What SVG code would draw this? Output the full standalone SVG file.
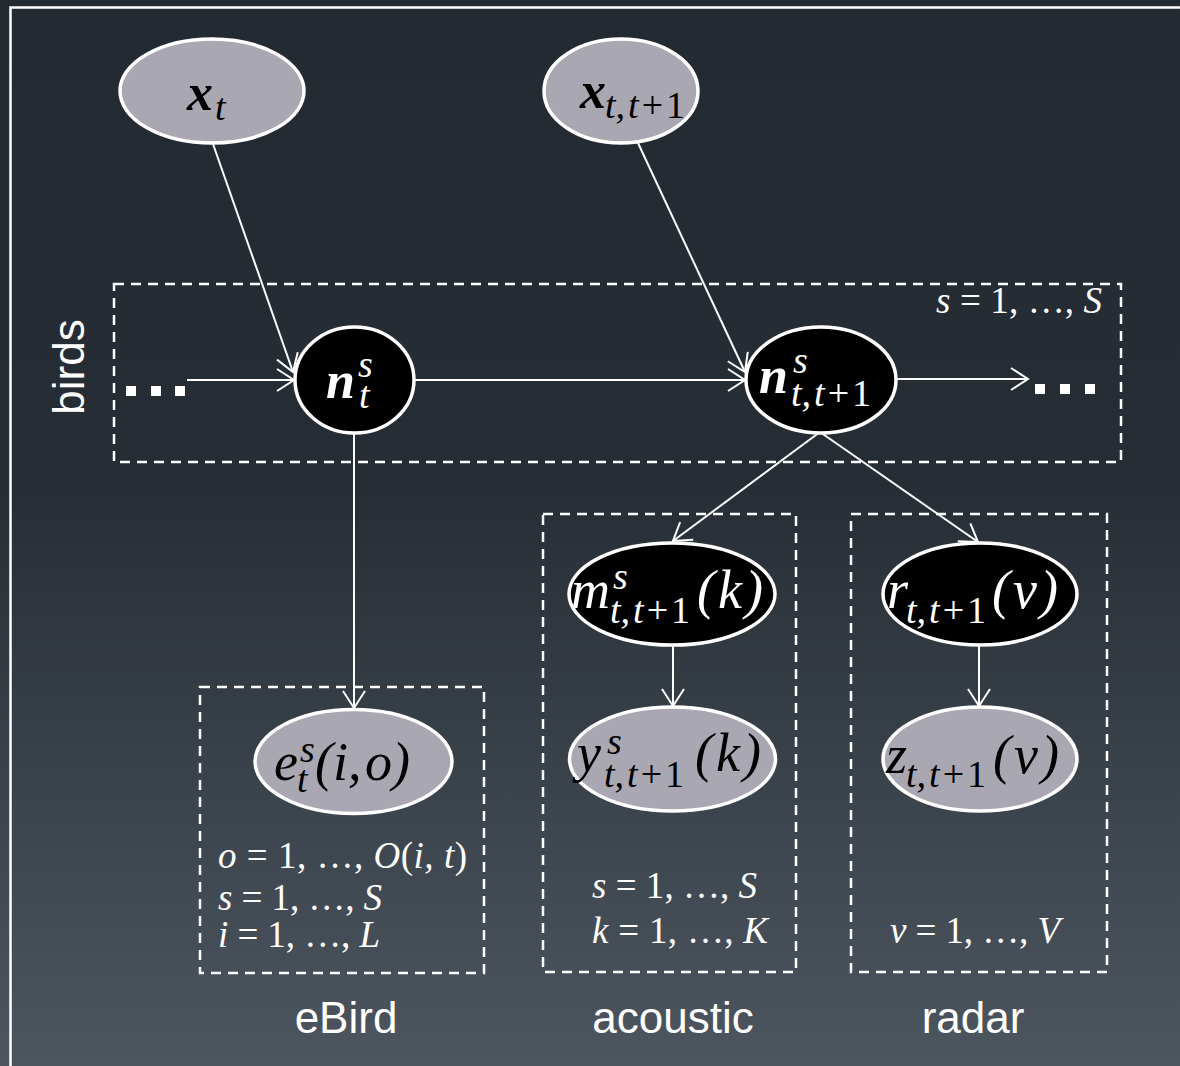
<svg xmlns="http://www.w3.org/2000/svg" width="1180" height="1066" viewBox="0 0 1180 1066">
<defs>
<linearGradient id="bg" x1="0" y1="0" x2="0" y2="1">
<stop offset="0" stop-color="#232a32"/>
<stop offset="0.45" stop-color="#262d35"/>
<stop offset="1" stop-color="#4d565f"/>
</linearGradient>
<marker id="arr" markerUnits="userSpaceOnUse" markerWidth="22" markerHeight="26" refX="18" refY="12" orient="auto" overflow="visible">
<path d="M1,1 L18,12 L1,23" fill="none" stroke="#ffffff" stroke-width="2"/>
</marker>
</defs>
<style>
.obs{fill:#a9a7b2;stroke:#ffffff;stroke-width:3.5}
.lat{fill:#000000;stroke:#ffffff;stroke-width:3.5}
.plate{fill:none;stroke:#ffffff;stroke-width:2.5;stroke-dasharray:10 7}
.edge{stroke:#ffffff;stroke-width:2;fill:none;marker-end:url(#arr)}
.m{font-family:"Liberation Serif",serif;font-style:italic;font-size:54px}
.b{font-weight:bold;font-size:52px}
.s{font-size:38px}
.u{font-style:normal}
.pl{font-family:"Liberation Serif",serif;font-style:italic;font-size:37px;fill:#ffffff}
.lbl{font-family:"Liberation Sans",Arial,sans-serif;font-size:44px;fill:#ffffff}
.dk{fill:#000000}
.wt{fill:#ffffff}
</style>
<rect x="0" y="0" width="1180" height="1066" fill="url(#bg)"/>
<path d="M10.5,1066 V7.5 H1180" fill="none" stroke="#ffffff" stroke-width="2.5"/>

<g id="plates">
<rect id="plate-birds" class="plate" x="114" y="284" width="1007" height="178"/>
<rect id="plate-ebird" class="plate" x="200" y="687" width="284" height="286"/>
<rect id="plate-acoustic" class="plate" x="543" y="514" width="253" height="458"/>
<rect id="plate-radar" class="plate" x="851" y="514" width="256" height="458"/>
</g>

<g id="dots" fill="#ffffff">
<rect x="126" y="386" width="10" height="10"/>
<rect x="151" y="386" width="10" height="10"/>
<rect x="175" y="386" width="10" height="10"/>
<rect x="1035" y="384" width="10" height="10"/>
<rect x="1060" y="384" width="10" height="10"/>
<rect x="1085" y="384" width="10" height="10"/>
</g>

<g id="connectors">
<line class="edge" x1="213" y1="144" x2="293" y2="372"/>
<line class="edge" x1="638" y1="143" x2="745" y2="372"/>
<line class="edge" x1="187" y1="380" x2="294" y2="380"/>
<line class="edge" x1="414" y1="380" x2="745" y2="380"/>
<line class="edge" x1="897" y1="379" x2="1028" y2="379"/>
<line class="edge" x1="354" y1="433" x2="354" y2="708"/>
<line class="edge" x1="820" y1="432" x2="673" y2="541"/>
<line class="edge" x1="820" y1="432" x2="978" y2="542"/>
<line class="edge" x1="673" y1="645" x2="673" y2="706"/>
<line class="edge" x1="979" y1="645" x2="979" y2="706"/>
</g>

<g id="node-xt">
<ellipse class="obs" cx="212" cy="91" rx="92" ry="52"/>
<text class="m dk"><tspan class="b" x="187" y="110">x</tspan><tspan class="s" x="215" y="120">t</tspan></text>
</g>
<g id="node-xtt1">
<ellipse class="obs" cx="621" cy="91" rx="77" ry="52"/>
<text class="m dk"><tspan class="b" x="580" y="108">x</tspan><tspan class="s" x="605" y="118">t,<tspan dx="3">t</tspan><tspan class="u" dx="3">+</tspan><tspan class="u" dx="3">1</tspan></tspan></text>
</g>
<g id="node-nt">
<ellipse class="lat" cx="354.5" cy="380" rx="59.5" ry="53"/>
<text class="m wt"><tspan class="b" x="326" y="398">n</tspan><tspan class="s" x="358" y="377">s</tspan><tspan class="s" x="359" y="408">t</tspan></text>
</g>
<g id="node-ntt1">
<ellipse class="lat" cx="821" cy="380" rx="75" ry="53"/>
<text class="m wt"><tspan class="b" x="759" y="393">n</tspan><tspan class="s" x="793" y="373">s</tspan><tspan class="s" x="791" y="406">t,<tspan dx="3">t</tspan><tspan class="u" dx="3">+</tspan><tspan class="u" dx="3">1</tspan></tspan></text>
</g>
<g id="node-e">
<ellipse class="obs" cx="353.5" cy="761.5" rx="98.5" ry="52"/>
<text class="m dk"><tspan x="274" y="780">e</tspan><tspan class="s" x="300" y="762">s</tspan><tspan class="s" x="297" y="792">t</tspan><tspan x="315" y="780">(i,</tspan><tspan x="365" y="780">o)</tspan></text>
</g>
<g id="node-m">
<ellipse class="lat" cx="672" cy="594" rx="103" ry="51"/>
<text class="m wt"><tspan x="571" y="608">m</tspan><tspan class="s" x="613" y="589">s</tspan><tspan class="s" x="610" y="623">t,<tspan dx="3">t</tspan><tspan class="u" dx="3">+</tspan><tspan class="u" dx="3">1</tspan></tspan><tspan x="697" y="608" letter-spacing="3">(k)</tspan></text>
</g>
<g id="node-y">
<ellipse class="obs" cx="672.5" cy="759" rx="103" ry="52"/>
<text class="m dk"><tspan x="577" y="771">y</tspan><tspan class="s" x="607" y="754">s</tspan><tspan class="s" x="604" y="787">t,<tspan dx="3">t</tspan><tspan class="u" dx="3">+</tspan><tspan class="u" dx="3">1</tspan></tspan><tspan x="695" y="771" letter-spacing="3">(k)</tspan></text>
</g>
<g id="node-r">
<ellipse class="lat" cx="980" cy="594" rx="97" ry="51"/>
<text class="m wt"><tspan x="887" y="608">r</tspan><tspan class="s" x="906" y="623">t,<tspan dx="3">t</tspan><tspan class="u" dx="3">+</tspan><tspan class="u" dx="3">1</tspan></tspan><tspan x="992" y="608" letter-spacing="3">(v)</tspan></text>
</g>
<g id="node-z">
<ellipse class="obs" cx="980" cy="759" rx="97" ry="52"/>
<text class="m dk"><tspan x="886" y="773">z</tspan><tspan class="s" x="906" y="787">t,<tspan dx="3">t</tspan><tspan class="u" dx="3">+</tspan><tspan class="u" dx="3">1</tspan></tspan><tspan x="993" y="773" letter-spacing="3">(v)</tspan></text>
</g>

<g id="plate-labels">
<text class="pl" x="936" y="313" textLength="166" lengthAdjust="spacing">s <tspan class="u">= 1, …, </tspan>S</text>
<text class="pl" x="218" y="868" textLength="249" lengthAdjust="spacing">o <tspan class="u">= 1, …, </tspan>O<tspan class="u">(</tspan>i, t<tspan class="u">)</tspan></text>
<text class="pl" x="218" y="910" textLength="164" lengthAdjust="spacing">s <tspan class="u">= 1, …, </tspan>S</text>
<text class="pl" x="218" y="947" textLength="162" lengthAdjust="spacing">i <tspan class="u">= 1, …, </tspan>L</text>
<text class="pl" x="592" y="898" textLength="165" lengthAdjust="spacing">s <tspan class="u">= 1, …, </tspan>S</text>
<text class="pl" x="592" y="943" textLength="176" lengthAdjust="spacing">k <tspan class="u">= 1, …, </tspan>K</text>
<text class="pl" x="890" y="943" textLength="170" lengthAdjust="spacing">v <tspan class="u">= 1, …, </tspan>V</text>
</g>

<g id="labels">
<text class="lbl" transform="translate(84,367) rotate(-90)" text-anchor="middle">birds</text>
<text class="lbl" x="346" y="1033" text-anchor="middle">eBird</text>
<text class="lbl" x="673" y="1033" text-anchor="middle">acoustic</text>
<text class="lbl" x="973" y="1033" text-anchor="middle">radar</text>
</g>
</svg>
